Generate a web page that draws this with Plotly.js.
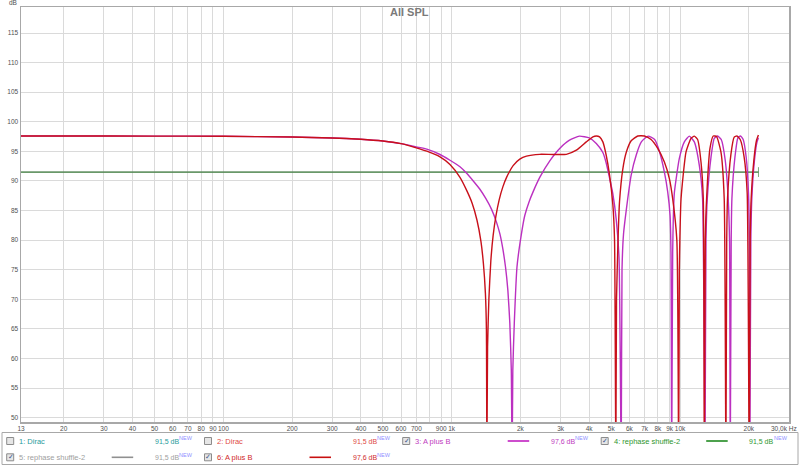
<!DOCTYPE html>
<html><head><meta charset="utf-8">
<script src="https://cdn.plot.ly/plotly-3.0.1.min.js"></script>
<style>html,body{margin:0;padding:0;background:#fff;} #chart{width:800px;height:466px;}</style>
</head><body><div id="chart"></div>
<script>
// ---------- data ----------
const chartTitle = "All SPL";
const yUnit = "dB";
const yTickVals = [50,55,60,65,70,75,80,85,90,95,100,105,110,115];
const xTickVals = [13,20,30,40,50,60,70,80,90,100,200,300,400,500,600,700,900,1000,2000,3000,4000,5000,6000,7000,8000,9000,10000,20000];
const xTickText = ["13","20","30","40","50","60","70","80","90","100","200","300","400","500","600","700","900","1k","2k","3k","4k","5k","6k","7k","8k","9k","10k","20k"];
const xUnlabeledGrid = [800];
const xEndLabel = "30,0k Hz";

// 6: A plus B (red)
const redFreq = [13,20,50,100,200,300,400,500,600,700,778,889,983,1087,1163,1230,1290,1343,1377,1405,1419,1426,1436,1455,1484,1519,1561,1614,1675,1739,1858,1987,2126,2430,2778,3178,3515,3886,4153,4298,4442,4592,4752,4913,5079,5166,5234,5270,5351,5432,5615,5810,6109,6528,6984,7467,7985,8540,8979,9283,9683,9860,9929,9979,10101,10622,11170,11547,11937,12353,12642,12770,12900,13070,13521,13977,14448,15101,15610,15880,16010,16140,16700,17263,17740,18340,19090,19677,20076,20280,20486,21050,21600,22040];
const redDb = [97.6,97.6,97.58,97.55,97.42,97.27,97.06,96.75,96.3,95.6,95.03,94.07,92.78,90.6,88.4,86.2,83.4,79.8,76.0,71.0,65.0,42,62,70,76.5,80.8,84.0,86.8,89.0,90.6,92.6,93.7,94.2,94.5,94.47,94.5,95.2,96.6,97.45,97.6,97.45,96.6,94.3,91.0,86.0,80.0,42,70,80,86.5,92.0,94.8,96.8,97.6,97.6,97.0,95.5,93.2,90.4,87.0,80.0,42,75,80,87,94.9,97.2,97.57,97.0,93.2,87,42,80,87,95.5,97.6,97.5,94.9,87,42,80,87,94.5,97.4,97.6,97.0,94,88,42,80,87,93.5,96.8,97.75];

// 3: A plus B (magenta)
const magFreq = [13,20,50,100,200,300,400,500,600,700,778,889,983,1087,1163,1243,1329,1412,1495,1572,1627,1675,1720,1762,1797,1824,1839,1852,1880,1932,2021,2091,2183,2274,2430,2689,2971,3281,3625,4005,4298,4592,4752,4913,5079,5254,5405,5525,5570,5655,5810,6109,6430,6770,7245,7740,8135,8540,8830,9040,9125,9190,9283,9348,9443,9929,10443,10980,11547,12140,12550,12860,12990,13160,13660,14120,14600,15150,15770,16250,16470,16590,16750,16870,17390,17920,18390,18900,19480,19940,20120,20220,20420,20620,21180,21700,22040];
const magDb = [97.6,97.6,97.58,97.55,97.42,97.27,97.06,96.75,96.3,95.75,95.37,94.47,93.5,92.4,91.3,90.0,88.6,87.0,85.2,83.0,81.0,78.5,75.5,71.5,66,58,42,58,66,75.5,81.1,84.2,86.5,88.2,90.6,93.4,95.5,96.9,97.57,97.28,96.34,94.8,93.0,90.5,87.8,83.5,77,42,75,81,85,91,94.4,96.6,97.57,97.0,94.9,91.5,88.15,84.2,78,42,78,84,88,93.8,96.6,97.57,96.6,92.67,87,42,80,87,94,97.2,97.6,97.0,93.5,87,80,42,80,87,94,97.3,97.6,97.0,94,88,80,42,80,87,93.5,96.5,97.3];

// 4: rephase shuffle-2 (green) and 5 (grey, under it)
const flatFreq = [13,22050];
const greenDb = [91.5,91.5];
const greyDb = [91.5,91.5];

// legend
const legendNames = ["1: Dirac","2: Dirac","3: A plus B","4: rephase shuffle-2","5: rephase shuffle-2","6: A plus B"];
const legendValues = ["91,5 dB","91,5 dB","97,6 dB","91,5 dB","91,5 dB","97,6 dB"];
const legendChecked = [false,false,true,true,true,true];
const legendShowLine = [false,false,true,true,true,true];
const legendTextColors = ["#1f9b9b","#e04a44","#c03cc0","#2e962e","#a0a0a0","#d02a2a"];
const legendLineColors = ["#1f9b9b","#e04a44","#c020c0","#208a20","#909090","#c81010"];
const newTag = "NEW";

// ---------- layout helpers ----------
const W = 800, H = 466, ML = 21, MR = 11, MT = 7, MB = 44;
const PW = W - ML - MR, PH = H - MT - MB;
const px = x => (x - ML) / PW;
const py = y => (H - MB - y) / PH;

const traces = [
  {x: flatFreq, y: greyDb, mode: 'lines', line: {color: '#a0a0a0', width: 1}, hoverinfo: 'skip'},
  {x: flatFreq, y: greenDb, mode: 'lines+markers', line: {color: '#4a8a4a', width: 1.2},
   marker: {symbol: 'line-ns-open', size: [0, 7], line: {color: '#6a8a6a', width: 1}}, hoverinfo: 'skip'},
  {x: magFreq, y: magDb, mode: 'lines', line: {color: '#bb30c0', width: 1.4, shape: 'spline', smoothing: 0.5}, hoverinfo: 'skip'},
  {x: redFreq, y: redDb, mode: 'lines', line: {color: '#c8101a', width: 1.4, shape: 'spline', smoothing: 0.5}, hoverinfo: 'skip'}
];

const tickFont = {family: 'Liberation Sans, Arial, sans-serif', size: 6.5, color: '#505050'};
const legFont = 'Liberation Sans, Arial, sans-serif';

const shapes = [];
const annotations = [];

annotations.push({xref: 'paper', yref: 'paper', x: px(409), y: py(12), text: chartTitle, showarrow: false,
  xanchor: 'center', yanchor: 'middle', font: {family: legFont, size: 11, color: '#7a7a7a', weight: 'bold'}});
annotations.push({xref: 'paper', yref: 'paper', x: px(18.5), y: py(3), text: yUnit, showarrow: false,
  xanchor: 'right', yanchor: 'middle', font: tickFont});
annotations.push({xref: 'paper', yref: 'paper', x: px(799), y: py(428.5), text: xEndLabel, showarrow: false,
  xanchor: 'right', yanchor: 'middle', font: tickFont});

// legend box
shapes.push({type: 'rect', xref: 'paper', yref: 'paper', x0: px(2), x1: px(798), y0: py(432.5), y1: py(464.5),
  line: {color: '#a8a8a8', width: 1}, fillcolor: 'rgba(0,0,0,0)', layer: 'above'});

const colX = [6.7, 204.5, 402.7, 601.2];
const rowY = [441, 457.3];
legendNames.forEach((name, i) => {
  const col = i < 4 ? i : i - 4;
  const row = i < 4 ? 0 : 1;
  const x0 = colX[col], yc = rowY[row];
  shapes.push({type: 'rect', xref: 'paper', yref: 'paper', x0: px(x0), x1: px(x0 + 7), y0: py(yc + 3.5), y1: py(yc - 3.5),
    line: {color: '#8c8c8c', width: 1}, fillcolor: '#e6e6e6', layer: 'above'});
  if (legendChecked[i]) {
    annotations.push({xref: 'paper', yref: 'paper', x: px(x0 + 3.8), y: py(yc), text: '✓', showarrow: false,
      xanchor: 'center', yanchor: 'middle', font: {family: 'DejaVu Sans', size: 7, color: '#3a5488'}});
  }
  annotations.push({xref: 'paper', yref: 'paper', x: px(x0 + 10.3), y: py(yc), text: name, showarrow: false,
    xanchor: 'left', yanchor: 'middle', font: {family: legFont, size: 7.5, color: legendTextColors[i]}});
  if (legendShowLine[i]) {
    shapes.push({type: 'line', xref: 'paper', yref: 'paper', x0: px(x0 + 105), x1: px(x0 + 126.5), y0: py(yc), y1: py(yc),
      line: {color: legendLineColors[i], width: 1.6}, layer: 'above'});
  }
  annotations.push({xref: 'paper', yref: 'paper', x: px(x0 + 146), y: py(yc),
    text: legendValues[i], showarrow: false,
    xanchor: 'left', yanchor: 'middle', font: {family: legFont, size: 7, color: legendTextColors[i]}});
  annotations.push({xref: 'paper', yref: 'paper', x: px(x0 + 146 + 24.5), y: py(yc - 2.6),
    text: newTag, showarrow: false,
    xanchor: 'left', yanchor: 'middle', font: {family: legFont, size: 5.5, color: '#8f8fff'}});
});

const layout = {
  width: W, height: H,
  margin: {l: ML, r: MR, t: MT, b: MB, pad: 0},
  paper_bgcolor: '#ffffff', plot_bgcolor: '#ffffff',
  showlegend: false,
  xaxis: {type: 'log', range: [Math.log10(13), Math.log10(30000)], tickmode: 'array',
    tickvals: xTickVals, ticktext: xTickText, tickfont: tickFont, tickangle: 0, ticks: '', ticklen: 0,
    showgrid: true, gridcolor: '#dadada', gridwidth: 1, zeroline: false,
    minor: {tickmode: 'array', tickvals: xUnlabeledGrid, showgrid: true, gridcolor: '#dadada', gridwidth: 1, ticks: ''},
    showline: true, linecolor: '#a8a8a8', linewidth: 1.5, mirror: true, fixedrange: true},
  yaxis: {range: [49.26, 119.4], tickmode: 'array', tickvals: yTickVals, tickfont: tickFont, ticks: '',
    showgrid: true, gridcolor: '#dadada', gridwidth: 1, zeroline: false,
    showline: true, linecolor: '#a8a8a8', linewidth: 1.5, mirror: true, fixedrange: true},
  shapes: shapes,
  annotations: annotations
};

Plotly.newPlot('chart', traces, layout, {staticPlot: true, displayModeBar: false});
</script>
</body></html>
